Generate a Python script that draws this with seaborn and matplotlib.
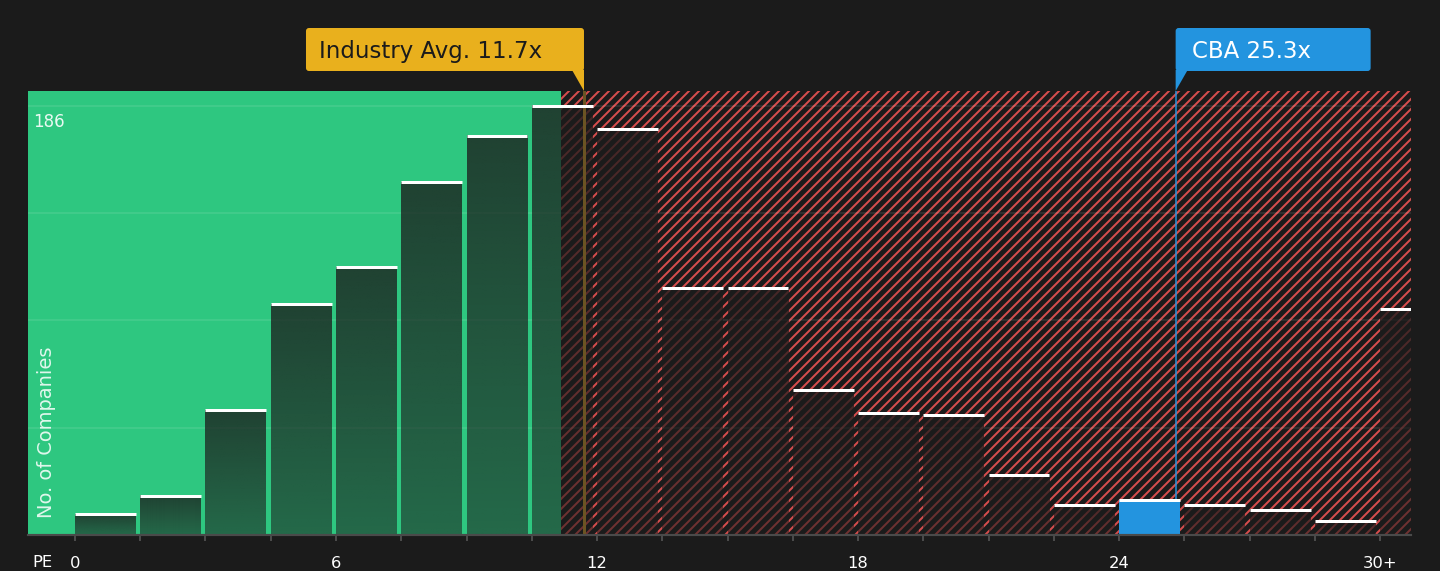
# PE ratio distribution - banks peer group vs CBA

import numpy as np
import pandas as pd
import matplotlib.pyplot as plt
import matplotlib.transforms as mtransforms
from matplotlib.patches import FancyBboxPatch, Polygon
from matplotlib.colors import to_rgb
import seaborn as sns

# data
bin_starts = [0, 1.5, 3, 4.5, 6, 7.5, 9, 10.5, 12, 13.5, 15, 16.5, 18, 19.5,
              21, 22.5, 24, 25.5, 27, 28.5, 30]
counts = [9, 17, 54, 100, 116, 153, 173, 186, 176, 107, 107, 63, 53, 52,
          26, 13, 15, 13, 11, 6, 98]
tick_text = {0: "0", 6: "6", 12: "12", 18: "18", 24: "24", 30: "30+"}
grid_values = [46.5, 93, 139.5, 186]

industry_avg = 11.7
company_name = "CBA"
company_pe = 25.3
green_zone_end = 11.17

# styling
bg = "#1b1b1b"
green = "#2ec780"
red = "#d64d4d"
yellow = "#e9b01d"
blue = "#2394df"
bin_w = 1.5
bar_w = 1.4
x_min, x_max = -1.08, 30.71
y_max = 192.5

sns.set_style("dark", {"axes.facecolor": bg, "figure.facecolor": bg})
plt.rcParams["font.family"] = ["DejaVu Sans"]
plt.rcParams["hatch.linewidth"] = 1.2

fig = plt.figure(figsize=(12, 571 / 120), dpi=120)
ax = fig.add_axes([28 / 1440, 36 / 571, 1383 / 1440, 444 / 571])

df = pd.DataFrame({"pe": np.array(bin_starts) + bar_w / 2, "companies": counts})
sns.barplot(data=df, x="pe", y="companies", native_scale=True,
            width=bar_w / bin_w, color=bg, errorbar=None, ax=ax,
            linewidth=0, zorder=2)
bars = list(ax.patches)

# background zones
ax.axvspan(x_min, green_zone_end, color=green, lw=0, zorder=0.2)
ax.axvspan(green_zone_end, x_max, facecolor="none", edgecolor=red,
           hatch="////", lw=0, zorder=0.2)

# bars: dark gradient, company bin in blue
n = 120
grad = np.zeros((n, 1, 4))
grad[..., :3] = to_rgb("#1c1c1c")
grad[:, 0, 3] = np.linspace(0.78, 0.55, n)
for bar, start, h in zip(bars, bin_starts, counts):
    x0, w = bar.get_x(), bar.get_width()
    if start <= company_pe < start + bin_w:
        bar.set_facecolor(blue)
        bar.set_alpha(1)
        bar.set_zorder(3)
        continue
    bar.set_facecolor("none")
    ax.imshow(grad, extent=(x0, x0 + w, 0, h), origin="upper",
              aspect="auto", interpolation="bilinear", zorder=2)

ax.hlines(counts, [b.get_x() for b in bars],
          [b.get_x() + b.get_width() for b in bars],
          color="white", lw=1.8, zorder=4)

ax.axvline(industry_avg, color="#6b5423", lw=1.8, zorder=3.5)
ax.axvline(company_pe, color=blue, lw=0.9, zorder=3.5)

ax.set_xlim(x_min, x_max)
ax.set_ylim(0, y_max)

# axes cosmetics
ax.set_axisbelow(True)
ax.set_yticks(grid_values)
ax.set_yticklabels([])
ax.grid(axis="y", color="white", alpha=0.1, lw=1)
ax.grid(axis="x", visible=False)
ax.set_xticks(bin_starts)
ax.set_xticklabels([tick_text.get(b, "") for b in bin_starts],
                   color="white", fontsize=9.8)
ax.tick_params(axis="x", bottom=True, length=3.6, width=1, color="#555555",
               pad=9)
ax.tick_params(axis="y", left=False, length=0)
ax.set_xlabel("")
ax.set_ylabel("")
for side in ["top", "right", "left"]:
    ax.spines[side].set_visible(False)
ax.spines["bottom"].set_color("#4a4a4a")
ax.spines["bottom"].set_linewidth(1.3)
ax.spines["bottom"].set_zorder(5)

ax.text(0.003, -0.063, "PE", transform=ax.transAxes, color="white",
        fontsize=9.8, ha="left", va="center")
ax.annotate(str(grid_values[-1]).rstrip("0").rstrip("."), xy=(0, 186),
            xycoords=("axes fraction", "data"), xytext=(5, -7),
            textcoords="offset pixels", color="white", alpha=0.9,
            fontsize=10, ha="left", va="top")
ax.text(0.0137, 0.038, "No. of Companies", transform=ax.transAxes,
        rotation=90, color="white", alpha=0.85, fontsize=11.6,
        ha="center", va="bottom")

# flag labels above the plot
ident = mtransforms.IdentityTransform()
ax_top = ax.transAxes.transform((0, 1))[1]
box_bottom = ax_top + 20
box_h = 43


def flag(xval, label, face, fg, width, pad, to_left):
    xp = ax.transData.transform((xval, 0))[0]
    if to_left:
        x0 = xp - width
        tri = [(xp - 12, box_bottom + 1), (xp, box_bottom + 1), (xp, ax_top)]
    else:
        x0 = xp
        tri = [(xp, box_bottom + 1), (xp + 12, box_bottom + 1), (xp, ax_top)]
    fig.add_artist(FancyBboxPatch((x0, box_bottom), width, box_h,
                                  boxstyle="round,pad=0,rounding_size=3",
                                  fc=face, ec="none", transform=ident))
    fig.add_artist(Polygon(tri, closed=True, fc=face, ec="none",
                           transform=ident))
    fig.text(x0 + pad, box_bottom + 12.7, label, transform=ident, color=fg,
             fontsize=13.7, ha="left", va="baseline")


flag(industry_avg, f"Industry Avg. {industry_avg}x", yellow, "#1b1b1b",
     278, 13, True)
flag(company_pe, f"{company_name} {company_pe}x", blue, "white",
     195, 16, False)

fig.savefig("out.png", dpi=120, facecolor=bg)
